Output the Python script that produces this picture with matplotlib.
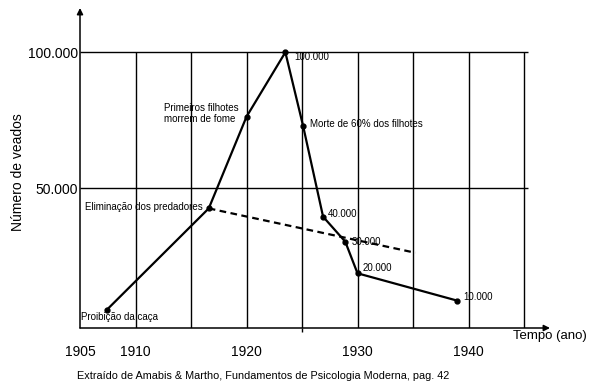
import matplotlib
matplotlib.use("Agg")
from matplotlib import pyplot as plt

plt.rcParams['font.family'] = ['Liberation Sans', 'DejaVu Sans']

# main curve (year, number of deer)
anos = [1907.4, 1916.6, 1920.0, 1923.5, 1925.1, 1926.9, 1928.9, 1930.0, 1939.0]
veados = [5150, 42500, 76200, 99900, 72800, 39450, 30260, 18640, 8570]
rotulos = ['Proibição da caça', 'Eliminação dos predadores',
           'Primeiros filhotes\nmorrem de fome', '100.000',
           'Morte de 60% dos filhotes', '40.000', '30.000', '20.000', '10.000']

# dashed projection after predators were removed
anos_proj = [1916.6, 1935.2]
veados_proj = [42500, 26200]

x_ticks = [1905, 1910, 1920, 1930, 1940]
y_ticks = [50000, 100000]
y_ticklabels = ['50.000', '100.000']
grade_anos = [1910, 1915, 1920, 1925, 1930, 1935, 1940, 1945]

W, H = 599, 390
fig = plt.figure(figsize=(W / 100, H / 100), dpi=100)
ax = fig.add_axes([80 / W, (H - 328) / H, 470 / W, 320 / H])
ax.set_xlim(1905, 1905 + 470 / 11.1)
ax.set_ylim(-1470, 116180)
for s in ax.spines.values():
    s.set_visible(False)

# axes with arrows
arrow = dict(arrowstyle='-|>', color='black', lw=1.1, mutation_scale=9, shrinkA=0, shrinkB=0)
ax.annotate('', xy=(0, 1), xytext=(0, 0), xycoords='axes fraction', arrowprops=arrow)
ax.annotate('', xy=(1, 0), xytext=(0, 0), xycoords='axes fraction', arrowprops=arrow)

# grid
ax.vlines(grade_anos, -1470, 100000, color='black', lw=1.0)
ax.hlines(y_ticks, 1905, 1945.4, color='black', lw=1.0)

# curves
ax.plot(anos, veados, color='black', lw=1.6, marker='o', ms=3.5, zorder=3)
ax.plot(anos_proj, veados_proj, color='black', lw=1.6, ls=(0, (3, 2)), zorder=3)

# point labels
offsets = [(-26, -7, 'left'), (-6, 1, 'right'), (-82, 3, 'left'), (9, -5, 'left'),
           (7, 2, 'left'), (5, 3, 'left'), (6, 0, 'left'), (5, 5, 'left'), (6, 4, 'left')]
for xv, yv, txt, (dx, dy, ha) in zip(anos, veados, rotulos, offsets):
    ax.annotate(txt, (xv, yv), xytext=(dx, dy), textcoords='offset pixels',
                ha=ha, va='center', fontsize=7, linespacing=1.15, zorder=4)

# ticks
ax.set_xticks(x_ticks)
ax.set_xticklabels([str(t) for t in x_ticks], fontsize=10)
ax.set_yticks(y_ticks)
ax.set_yticklabels(y_ticklabels, fontsize=10)
ax.tick_params(axis='x', length=0, pad=12)
ax.tick_params(axis='y', length=0, pad=1.5)
ax.set_xticks([1905, 1925], minor=True)
ax.tick_params(axis='x', which='minor', length=3, width=1)

fig.text(18 / W, 1 - 172 / H, 'Número de veados', rotation=90, ha='center', va='center', fontsize=10)
fig.text(513 / W, 1 - 336 / H, 'Tempo (ano)', ha='left', va='center', fontsize=9.5)
fig.text(77 / W, 1 - 376 / H, 'Extraído de Amabis & Martho, Fundamentos de Psicologia Moderna, pag. 42',
         ha='left', va='center', fontsize=7.8)

fig.savefig('out.png', dpi=100)
